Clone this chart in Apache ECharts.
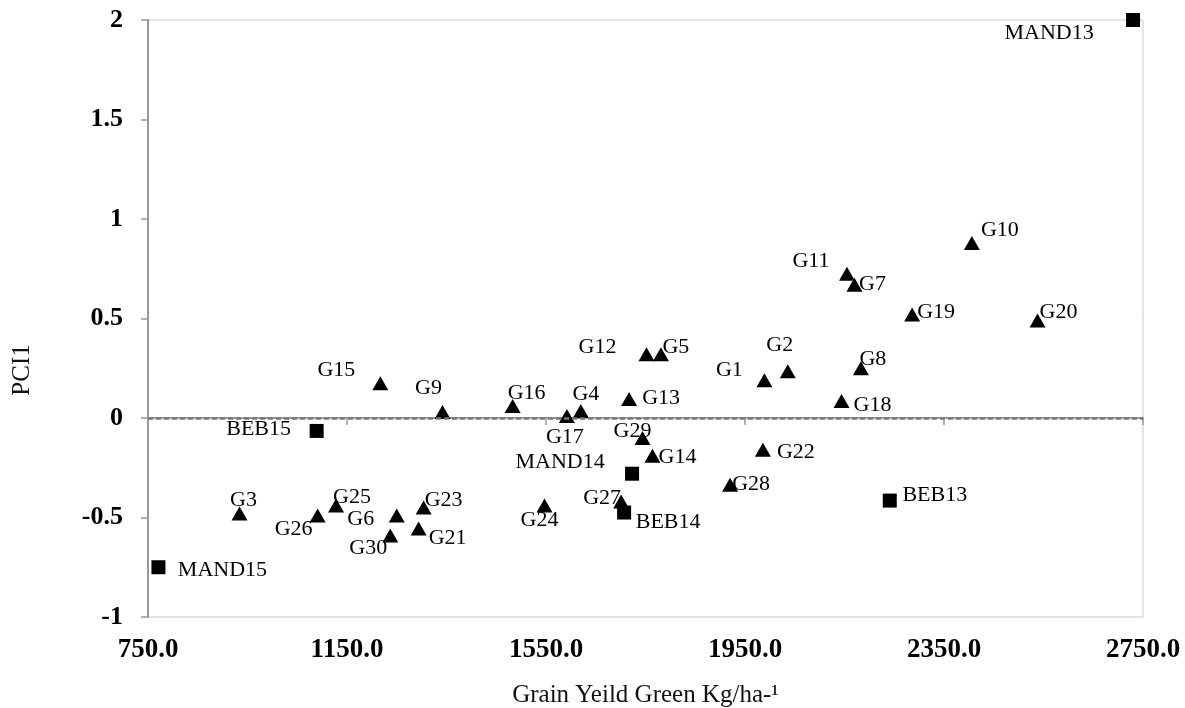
<!DOCTYPE html>
<html>
<head>
<meta charset="utf-8">
<script src="https://cdn.jsdelivr.net/npm/echarts@6/dist/echarts.min.js"></script>
<style>
html,body{margin:0;padding:0;background:#fff;}
#chart{width:1185px;height:708px;}
</style>
</head>
<body>
<div id="chart"></div>
<script>
// Genotypes (triangles)
const genoNames = ['G1','G2','G3','G4','G5','G6','G7','G8','G9','G10','G11','G12','G13','G14','G15','G16','G17','G18','G19','G20','G21','G22','G23','G24','G25','G26','G27','G28','G29','G30'];
const genoYield = [1989,2036,934,1620,1781,1250,2170,2183,1342,2406,2155,1752,1717,1764,1217,1483,1592,2144,2286,2538,1294,1986,1304,1547,1128,1091,1701,1920,1744,1237];
const genoPC = [0.19,0.235,-0.48,0.035,0.32,-0.49,0.67,0.25,0.03,0.88,0.725,0.32,0.095,-0.19,0.175,0.06,0.01,0.085,0.52,0.49,-0.555,-0.16,-0.45,-0.44,-0.44,-0.49,-0.42,-0.335,-0.1,-0.59];

// Environments (squares)
const envNames = ['MAND13','MAND14','MAND15','BEB13','BEB14','BEB15'];
const envYield = [2730,1723,771,2241,1707,1089];
const envPC = [2.0,-0.28,-0.75,-0.415,-0.475,-0.065];

// Axis ticks
const xTicks = [750,1150,1550,1950,2350,2750];
const yTicks = [-1,-0.5,0,0.5,1,1.5,2];

// Label placement (style): label centre relative to marker centre, px
const labelOffsets = {
  G1:[-35,-10], G2:[-8,-26], G3:[4,-13], G4:[5,-17], G5:[15,-7], G6:[-36,4], G7:[18,0], G8:[12,-9],
  G9:[-14,-24], G10:[28,-13], G11:[-36,-13], G12:[-49,-7], G13:[32,-1], G14:[25,1], G15:[-44,-13],
  G16:[14,-13], G17:[-2,21], G18:[31,4], G19:[24,-2], G20:[21,-8], G21:[29,10], G22:[33,2], G23:[20,-7],
  G24:[-5,15], G25:[16,-8], G26:[-24,14], G27:[-19,-3], G28:[21,0], G29:[-10,-7], G30:[-22,13],
  MAND13:[-84,13], MAND14:[-72,-12], MAND15:[64,3], BEB13:[45,-5], BEB14:[44,10], BEB15:[-58,-2]
};

function build(names, xs, ys) {
  return names.map((n, i) => ({
    name: n,
    value: [xs[i], ys[i]],
    label: { offset: labelOffsets[n] || [0, 0] }
  }));
}

const FONT = "'Liberation Serif', 'Times New Roman', serif";
const labelStyle = {
  show: true,
  position: 'inside',
  formatter: p => p.name,
  fontFamily: FONT,
  fontSize: 22,
  color: '#000'
};

const chart = echarts.init(document.getElementById('chart'), null, { renderer: 'canvas' });
chart.setOption({
  backgroundColor: '#fff',
  animation: false,
  grid: { left: 148, right: 42, top: 20, bottom: 91, outerBoundsMode: 'none', containLabel: false, show: true, borderColor: '#c8c8c8', borderWidth: 1 },
  xAxis: {
    type: 'value',
    min: xTicks[0],
    max: xTicks[xTicks.length - 1],
    name: 'Grain Yeild Green Kg/ha-\u00B9',
    nameLocation: 'middle',
    nameGap: 66,
    nameTextStyle: { fontFamily: FONT, fontSize: 25, color: '#111' },
    axisLine: { show: true, lineStyle: { color: '#999', width: 2 } },
    axisTick: { show: true, length: 7, lineStyle: { color: '#999', width: 1.5 }, customValues: xTicks },
    axisLabel: { customValues: xTicks, formatter: v => v.toFixed(1), fontFamily: FONT, fontWeight: 'bold', fontSize: 27, color: '#000', margin: 20 },
    splitLine: { show: false }
  },
  yAxis: {
    type: 'value',
    min: yTicks[0],
    max: yTicks[yTicks.length - 1],
    interval: 0.5,
    axisLine: { show: true, lineStyle: { color: '#999', width: 2 } },
    axisTick: { show: true, length: 7, lineStyle: { color: '#999', width: 1.5 } },
    axisLabel: { fontFamily: FONT, fontWeight: 'bold', fontSize: 26, color: '#000', margin: 25 },
    splitLine: { show: false }
  },
  graphic: [{
    type: 'text',
    x: 22, y: 370,
    rotation: Math.PI / 2,
    style: { text: 'PCI1', fontFamily: FONT, fontSize: 25, fill: '#111', align: 'center', verticalAlign: 'middle' }
  }],
  series: [
    {
      type: 'scatter',
      name: 'Genotypes',
      symbol: 'triangle',
      symbolSize: [16, 14],
      itemStyle: { color: '#000', opacity: 1 },
      label: labelStyle,
      data: build(genoNames, genoYield, genoPC),
      markLine: {
        silent: true,
        symbol: 'none',
        label: { show: false },
        lineStyle: { color: '#777', type: [5, 3], width: 2.5, opacity: 1 },
        data: [{ yAxis: 0 }]
      },
      z: 3
    },
    {
      type: 'scatter',
      name: 'Environments',
      symbol: 'rect',
      symbolSize: 14,
      itemStyle: { color: '#000', opacity: 1 },
      label: labelStyle,
      data: build(envNames, envYield, envPC),
      z: 3
    }
  ]
});
</script>
</body>
</html>
